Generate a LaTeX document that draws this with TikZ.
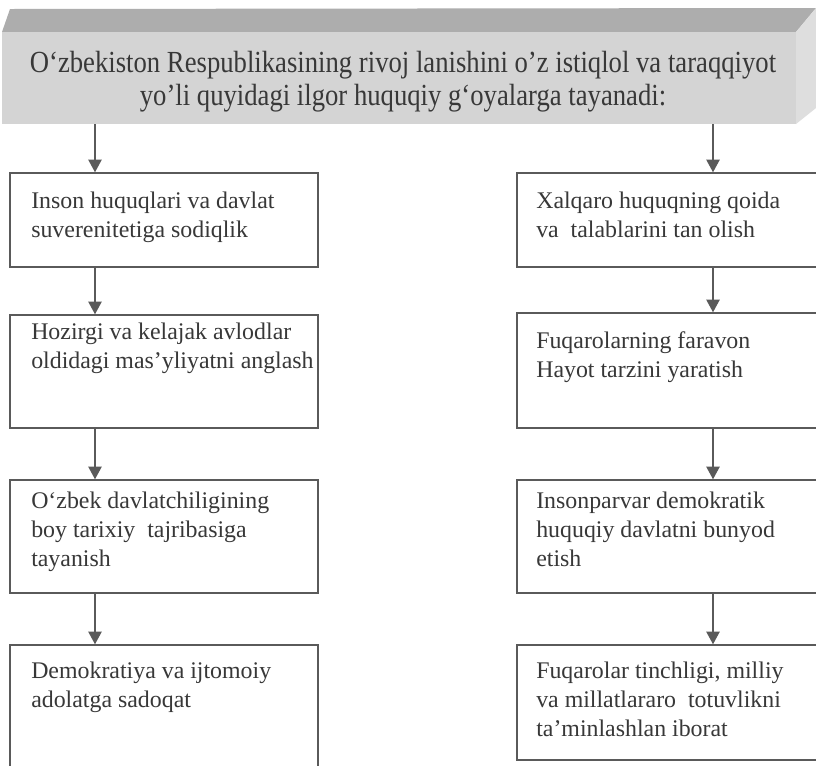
\documentclass[tikz,border=0pt]{standalone}
\usepackage{fontspec}
\setmainfont{Liberation Serif}
\newfontfamily\bannerfont[FakeStretch=0.87]{Liberation Serif}
\usetikzlibrary{fit,arrows.meta}
\definecolor{linec}{HTML}{5A5A5A}
\definecolor{txtc}{HTML}{383838}
\definecolor{frontc}{HTML}{D4D4D4}
\definecolor{topc}{HTML}{ADADAD}
\definecolor{sidec}{HTML}{DEDEDE}
\begin{document}
\begin{tikzpicture}[x=0.75pt,y=-0.75pt,
  boxs/.style={draw=linec, line width=1.1pt, inner sep=0pt},
  boxtxt/.style={anchor=north west, align=left, inner sep=0pt, text=txtc,
     font=\fontsize{17.9}{21.75}\selectfont},
  bantxt/.style={align=center, inner sep=0pt, text=txtc,
     font=\bannerfont\fontsize{23}{24.75}\selectfont},
  arr/.style={draw=linec, line width=1.1pt, -{Triangle[length=9.5pt,width=10pt]}}]
\useasboundingbox (0,0) rectangle (816,765);
\fill[white] (0,0) rectangle (816,765);
\clip (0,0) rectangle (816,765);
% banner
\fill[topc] (10,9) -- (816,8) -- (796,32) -- (2,32) -- cycle;
\fill[sidec] (796,32) -- (816,8) -- (816,108) -- (796,124) -- cycle;
\node[fill=frontc, inner sep=0pt, fit={(2,32)(796,124)}] (ban) {};
\node[bantxt] (bantext) at (403,82) {O‘zbekiston Respublikasining rivoj lanishini o’z istiqlol va taraqqiyot\\yo’li quyidagi ilgor huquqiy g‘oyalarga tayanadi:};
% column axes
\coordinate (cl) at (95,0);
\coordinate (cr) at (713,0);
% left boxes
\node[boxs, fit={(10,173)(318,267)}] (L1) {};
\node[boxs, fit={(10,315)(318,428)}] (L2) {};
\node[boxs, fit={(10,480)(318,593)}] (L3) {};
\node[boxs, fit={(10,645)(318,800)}] (L4) {};
% right boxes
\node[boxs, fit={(517,173)(830,267)}] (R1) {};
\node[boxs, fit={(517,313)(830,428)}] (R2) {};
\node[boxs, fit={(517,480)(830,593)}] (R3) {};
\node[boxs, fit={(517,645)(830,760)}] (R4) {};
% texts
\node[boxtxt] (tL1) at (31,188) {\strut Inson huquqlari va davlat\\suverenitetiga sodiqlik};
\node[boxtxt] (tL2) at (31,319) {\strut Hozirgi va kelajak avlodlar\\oldidagi mas’yliyatni anglash};
\node[boxtxt] (tL3) at (31,488) {\strut O‘zbek davlatchiligining\\boy tarixiy\ \ tajribasiga\\tayanish};
\node[boxtxt] (tL4) at (31,658) {\strut Demokratiya va ijtomoiy\\adolatga sadoqat};
\node[boxtxt] (tR1) at (536,188) {\strut Xalqaro huquqning qoida\\va\ \ talablarini tan olish};
\node[boxtxt] (tR2) at (536,328) {\strut Fuqarolarning faravon\\Hayot tarzini yaratish};
\node[boxtxt] (tR3) at (536,488) {\strut Insonparvar demokratik\\huquqiy davlatni bunyod\\etish};
\node[boxtxt] (tR4) at (536,658) {\strut Fuqarolar tinchligi, milliy\\va millatlararo\ \ totuvlikni\\ta’minlashlan iborat};
% arrows
\draw[arr] (ban.south -| cl) -- (L1.north -| cl);
\draw[arr] (L1.south -| cl) -- (L2.north -| cl);
\draw[arr] (L2.south -| cl) -- (L3.north -| cl);
\draw[arr] (L3.south -| cl) -- (L4.north -| cl);
\draw[arr] (ban.south -| cr) -- (R1.north -| cr);
\draw[arr] (R1.south -| cr) -- (R2.north -| cr);
\draw[arr] (R2.south -| cr) -- (R3.north -| cr);
\draw[arr] (R3.south -| cr) -- (R4.north -| cr);
\end{tikzpicture}
\end{document}
